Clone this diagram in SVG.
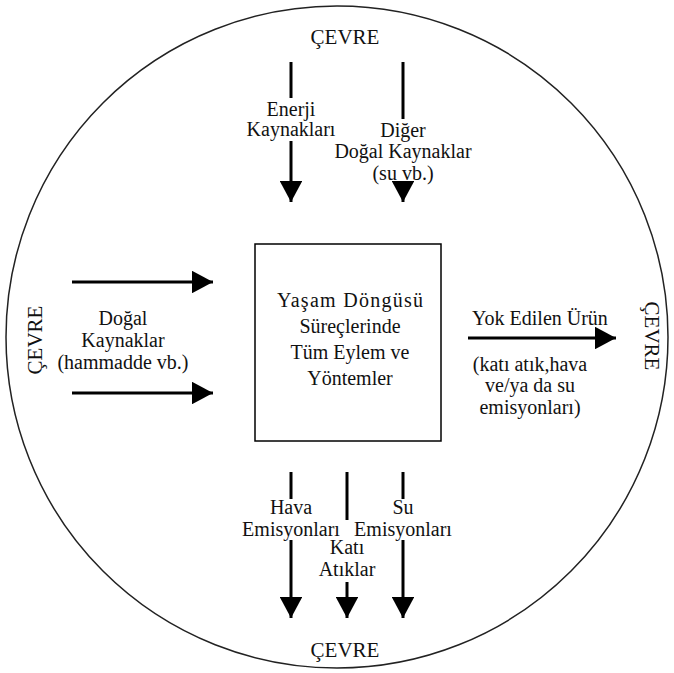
<svg xmlns="http://www.w3.org/2000/svg" width="674" height="673" viewBox="0 0 674 673">
  <style>
    text { font-family: 'Liberation Serif', 'DejaVu Serif', serif; font-size: 20px; fill: #111; text-anchor: middle; }
    .env { font-size: 21px; }
    .ln { stroke: #000; stroke-width: 3; fill: none; }
  </style>
  <defs>
    <marker id="ah" viewBox="0 0 10 10" refX="10" refY="5" markerWidth="7" markerHeight="7.5" markerUnits="strokeWidth" orient="auto" preserveAspectRatio="none">
      <path d="M0,0 L10,5 L0,10 Z" fill="#000"/>
    </marker>
  </defs>
  <rect width="674" height="673" fill="#fff"/>

  <g id="environment">
    <circle cx="337" cy="337" r="331" fill="none" stroke="#222" stroke-width="1.5"/>
    <text class="env" x="345" y="44">ÇEVRE</text>
    <text class="env" x="345" y="657">ÇEVRE</text>
    <text class="env" transform="translate(42,340) rotate(-90)">ÇEVRE</text>
    <text class="env" transform="translate(645,336) rotate(90)">ÇEVRE</text>
  </g>

  <g id="process">
    <rect x="255" y="244" width="186" height="197" fill="#fff" stroke="#000" stroke-width="1.5"/>
    <text x="350" y="307" textLength="146">Yaşam Döngüsü</text>
    <text x="350" y="333">Süreçlerinde</text>
    <text x="350" y="359">Tüm Eylem ve</text>
    <text x="350" y="385">Yöntemler</text>
  </g>

  <g id="connectors">
    <!-- inputs from above -->
    <line class="ln" x1="291" y1="62" x2="291" y2="98"/>
    <line class="ln" x1="291" y1="141" x2="291" y2="202" marker-end="url(#ah)"/>
    <line class="ln" x1="403" y1="62" x2="403" y2="119"/>
    <line class="ln" x1="403" y1="182" x2="403" y2="202" marker-end="url(#ah)"/>
    <!-- inputs from the left -->
    <line class="ln" x1="72" y1="282" x2="213" y2="282" marker-end="url(#ah)"/>
    <line class="ln" x1="72" y1="393" x2="213" y2="393" marker-end="url(#ah)"/>
    <!-- output to the right -->
    <line class="ln" x1="468" y1="338" x2="616" y2="338" marker-end="url(#ah)"/>
    <!-- outputs below -->
    <line class="ln" x1="291" y1="472" x2="291" y2="499"/>
    <line class="ln" x1="291" y1="540" x2="291" y2="618" marker-end="url(#ah)"/>
    <line class="ln" x1="347" y1="472" x2="347" y2="520"/>
    <line class="ln" x1="347" y1="582" x2="347" y2="618" marker-end="url(#ah)"/>
    <line class="ln" x1="403" y1="472" x2="403" y2="499"/>
    <line class="ln" x1="403" y1="540" x2="403" y2="618" marker-end="url(#ah)"/>
  </g>

  <g id="energy-sources">
    <text x="291" y="116">Enerji</text>
    <text x="291" y="136">Kaynakları</text>
  </g>
  <g id="other-natural-sources">
    <text x="403" y="137">Diğer</text>
    <text x="403" y="158">Doğal Kaynaklar</text>
    <text x="403" y="180">(su vb.)</text>
  </g>
  <g id="natural-sources">
    <text x="123" y="325">Doğal</text>
    <text x="123" y="347">Kaynaklar</text>
    <text x="123" y="369">(hammadde vb.)</text>
  </g>
  <g id="disposed-product">
    <text x="540" y="325">Yok Edilen Ürün</text>
    <text x="530" y="371">(katı atık,hava</text>
    <text x="530" y="392">ve/ya da su</text>
    <text x="530" y="414">emisyonları)</text>
  </g>
  <g id="air-emissions">
    <text x="291" y="514">Hava</text>
    <text x="291" y="536">Emisyonları</text>
  </g>
  <g id="solid-waste">
    <text x="347" y="554">Katı</text>
    <text x="347" y="576">Atıklar</text>
  </g>
  <g id="water-emissions">
    <text x="403" y="514">Su</text>
    <text x="403" y="536">Emisyonları</text>
  </g>
</svg>
